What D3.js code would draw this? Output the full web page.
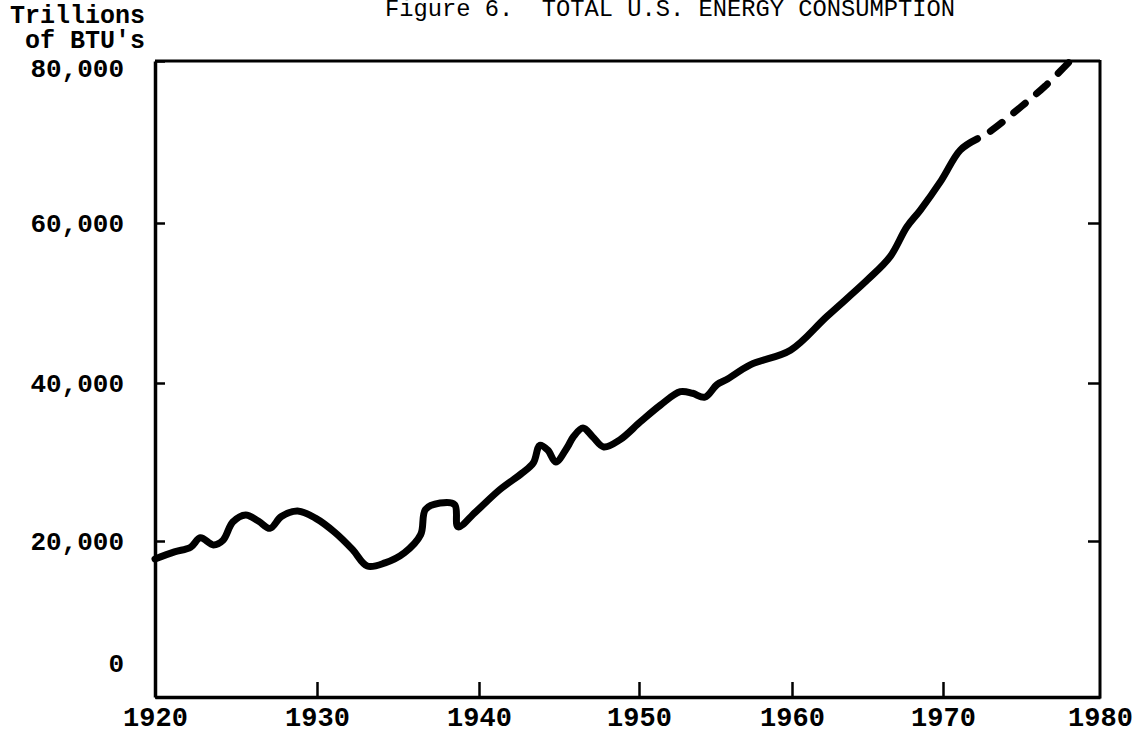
<!DOCTYPE html>
<html>
<head>
<meta charset="utf-8">
<script src="https://cdn.jsdelivr.net/npm/d3@7"></script>
<style>
  html, body { margin: 0; padding: 0; background: #fff; }
  svg { display: block; }
  text { font-family: "Liberation Mono", "DejaVu Sans Mono", monospace; fill: #000; }
</style>
</head>
<body>
<svg id="chart" width="1145" height="733"></svg>
<script>
// ---- data ----
const yearTicks = [1920, 1930, 1940, 1950, 1960, 1970, 1980];
const valueTicks = [0, 20000, 40000, 60000, 80000];

const years = [1920.0, 1921.2, 1922.2, 1922.8, 1923.6, 1924.2, 1924.8, 1925.6, 1926.4, 1927.1,
  1927.8, 1928.8, 1929.9, 1931.1, 1932.2, 1933.1, 1934.2, 1935.4, 1936.4, 1936.7,
  1937.6, 1938.5, 1938.7, 1939.8, 1941.3, 1942.7, 1943.4, 1943.8, 1944.3, 1944.8,
  1945.5, 1945.9, 1946.5, 1947.1, 1947.8, 1948.8, 1950.1, 1951.4, 1952.7, 1953.5,
  1954.3, 1955.1, 1955.7, 1957.3, 1959.9, 1962.3, 1965.0, 1966.5, 1967.6, 1968.5,
  1969.9, 1971.1, 1972.2];
const consumption = [17700, 18600, 19200, 20400, 19500, 20100, 22400, 23300, 22500, 21600,
  23100, 23800, 22900, 21100, 18900, 16800, 17200, 18500, 20800, 24000,
  24800, 24600, 21800, 23700, 26500, 28600, 29900, 32100, 31500, 30000,
  31800, 33200, 34300, 33200, 31900, 32800, 35100, 37200, 38900, 38700,
  38200, 39800, 40400, 42300, 44100, 48300, 52900, 55800, 59500, 61600,
  65300, 69000, 70400];

const projYears = [1972.2, 1973.0, 1975.0, 1976.5, 1978.0];
const projConsumption = [70400, 71300, 74400, 76900, 79800];

const titleText = "Figure 6.  TOTAL U.S. ENERGY CONSUMPTION";
const unitLines = ["Trillions", "of BTU's"];

// ---- drawing ----
const svg = d3.select("#chart");

const x = d3.scaleLinear()
  .domain(yearTicks)
  .range([155, 317, 479, 639, 792, 943, 1100]);
const y = d3.scaleLinear()
  .domain(valueTicks)
  .range([697, 541, 383, 223, 61]);

const fmt = d3.format(",");

// title
svg.append("text")
  .attr("x", 385).attr("y", 16)
  .attr("font-size", 23.75)
  .attr("xml:space", "preserve")
  .style("white-space", "pre")
  .text(titleText);

// unit label
svg.append("text").attr("x", 10).attr("y", 23).attr("font-size", 25).attr("font-weight", "bold").text(unitLines[0]);
svg.append("text").attr("x", 25).attr("y", 48).attr("font-size", 25).attr("font-weight", "bold").text(unitLines[1]);

// frame (top and right)
svg.append("line")
  .attr("x1", x(1920)).attr("x2", x(1980))
  .attr("y1", y(80000)).attr("y2", y(80000))
  .attr("stroke", "#000").attr("stroke-width", 3);
svg.append("line")
  .attr("x1", x(1980)).attr("x2", x(1980))
  .attr("y1", y(80000) - 1).attr("y2", y(0) + 1.5)
  .attr("stroke", "#000").attr("stroke-width", 3);

// left axis
const yAxis = d3.axisLeft(y)
  .tickValues(valueTicks)
  .tickFormat(fmt)
  .tickSizeInner(-10)
  .tickSizeOuter(0)
  .tickPadding(31);
const gy = svg.append("g").attr("transform", `translate(${x(1920)},0)`).call(yAxis);
gy.select(".domain").attr("stroke-width", 3.5);
gy.selectAll(".tick line").attr("stroke-width", 2.5);
gy.selectAll(".tick text")
  .attr("font-size", 26).attr("font-weight", "bold")
  .attr("font-family", "Liberation Mono, monospace")
  .attr("dy", d => d === 0 ? "-1.0em" : (d === 80000 ? "15px" : "0.32em"));

// right axis ticks
const yAxisR = d3.axisRight(y)
  .tickValues(valueTicks.filter(v => v > 0 && v < 80000))
  .tickFormat("")
  .tickSizeInner(-12)
  .tickSizeOuter(0);
const gyr = svg.append("g").attr("transform", `translate(${x(1980)},0)`).call(yAxisR);
gyr.select(".domain").remove();
gyr.selectAll(".tick line").attr("stroke-width", 2.5);

// bottom axis
const xAxis = d3.axisBottom(x)
  .tickValues(yearTicks)
  .tickFormat(d3.format("d"))
  .tickSizeInner(-15)
  .tickSizeOuter(0)
  .tickPadding(10);
const gx = svg.append("g").attr("transform", `translate(0,${y(0)})`).call(xAxis);
gx.select(".domain").attr("stroke-width", 3.5);
gx.selectAll(".tick line").attr("stroke-width", 2.5)
  .attr("opacity", d => (d === 1920 || d === 1980) ? 0 : 1);
gx.selectAll(".tick text")
  .attr("font-size", 27).attr("font-weight", "bold")
  .attr("font-family", "Liberation Mono, monospace");

// the curve
const pts = years.map((yr, i) => [yr, consumption[i]]);
const proj = projYears.map((yr, i) => [yr, projConsumption[i]]);
const line = d3.line()
  .x(d => x(d[0]))
  .y(d => y(d[1]))
  .curve(d3.curveCatmullRom.alpha(0.5));

svg.append("path")
  .datum(pts)
  .attr("d", line)
  .attr("fill", "none")
  .attr("stroke", "#000")
  .attr("stroke-width", 7)
  .attr("stroke-linejoin", "round")
  .attr("stroke-linecap", "round");

const projPath = svg.append("path")
  .datum(proj)
  .attr("d", line)
  .attr("fill", "none")
  .attr("stroke", "#000")
  .attr("stroke-width", 7)
  .attr("stroke-linecap", "round");
// four dashes, gap first, last dash ending at the path end
const L = projPath.node().getTotalLength();
const period = L / 4;
const dash = period * 0.5, gap = period * 0.5;
projPath.attr("stroke-dasharray", `${dash},${gap}`).attr("stroke-dashoffset", dash);
</script>
</body>
</html>
